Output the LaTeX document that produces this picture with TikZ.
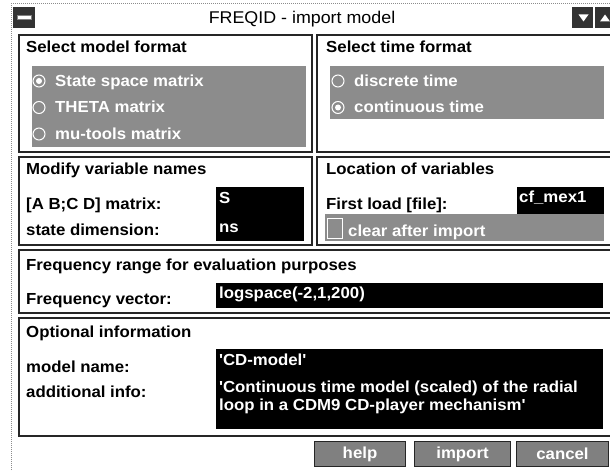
\documentclass[tikz,border=0pt]{standalone}
\usepackage{fontspec}
\setmainfont{Liberation Sans}[FakeStretch=1.05]
\begin{document}
\begin{tikzpicture}[x=1pt,y=-1pt,
  lbl/.style={anchor=base west, inner sep=0pt, font=\bfseries\fontsize{16}{19}\selectfont, text=black},
  wlbl/.style={lbl, text=white},
  panel/.style={draw=black!85, line width=1.4pt},
  shadearea/.style={fill=black!45},
  field/.style={fill=black},
  radio/.style={circle, draw=white, line width=1pt, minimum size=12pt, inner sep=0pt},
  dot/.style={circle, fill=white, minimum size=6pt, inner sep=0pt},
  iconbox/.style={fill=black!80, anchor=north west, inner sep=0pt, minimum height=21pt},
  btn/.style={draw=black!85, line width=1pt, fill=black!50, text=white,
    font=\bfseries\fontsize{16}{19}\selectfont, inner sep=0pt, minimum height=25pt, anchor=north west}
]
\useasboundingbox (0,0) rectangle (610,473);
\clip (0,0) rectangle (610,473);
\fill[white] (0,0) rectangle (610,473);
% window border
\draw[black!45, line width=1pt, dash pattern=on 1pt off 1pt] (11,470) -- (11,4) -- (612,4);

% title bar
\node[anchor=base, inner sep=0pt, font=\fontsize{17}{20}\selectfont] (title) at (302,24) {FREQID - import model};
\node[iconbox, minimum width=22pt] (menu) at (13,7) {};
\fill[white] (17,15.5) rectangle (31,19.5);
\draw[black!50, line width=0.6pt] (17,15.5) rectangle (31,19.5);
\node[iconbox, minimum width=21pt] (down) at (572,7) {};
\fill[white] (578.5,14.5) -- (588.5,14.5) -- (583.5,21.5) -- cycle;
\node[iconbox, minimum width=20pt] (up) at (595,7) {};
\fill[white] (600,21.5) -- (610,21.5) -- (605,14.5) -- cycle;

% panels
\draw[panel] (19,35) rectangle (312,152);
\draw[panel] (317,35) rectangle (614,152);
\draw[panel] (19,157) rectangle (312,245);
\draw[panel] (317,157) rectangle (614,245);
\draw[panel] (19,250) rectangle (614,313);
\draw[panel] (19,318) rectangle (614,436);

% panel 1: model format
\node[lbl] (h1) at (26,53) {Select model format};
\fill[shadearea] (32,66) rectangle (306,147);
\node[radio] (r1) at (39,81) {};
\node[dot] at (r1) {};
\node[radio] (r2) at (39,107.5) {};
\node[radio] (r3) at (39,134) {};
\node[wlbl] (t1) at (55,87) {State space matrix};
\node[wlbl] (t2) at (55,113) {THETA matrix};
\node[wlbl] (t3) at (55,140) {mu-tools matrix};

% panel 1R: time format
\node[lbl] (h2) at (326,53) {Select time format};
\fill[shadearea] (330,66) rectangle (604,119);
\node[radio] (r4) at (338,81) {};
\node[radio] (r5) at (338,107.5) {};
\node[dot] at (r5) {};
\node[wlbl] (t4) at (354,87) {discrete time};
\node[wlbl] (t5) at (354,113) {continuous time};

% panel 2: variable names
\node[lbl] (h3) at (26,175) {Modify variable names};
\node[lbl] (l1) at (26,210) {[A B;C D] matrix:};
\node[lbl] (l2) at (26,235) {state dimension:};
\fill[field] (216,187) rectangle (304,241);
\node[wlbl] (v1) at (219,204) {S};
\node[wlbl] (v2) at (219,232) {ns};

% panel 2R: location
\node[lbl] (h4) at (326,175) {Location of variables};
\node[lbl] (l3) at (326,210) {First load [file]:};
\fill[field] (517,187) rectangle (604,214);
\node[wlbl] (v3) at (519,203) {cf\_mex1};
\fill[shadearea] (325,214) rectangle (604,241);
\draw[white, line width=1pt] (327,218) rectangle (342,238);
\node[wlbl] (t6) at (348,236) {clear after import};

% panel 3: frequency
\node[lbl] (h5) at (26,270) {Frequency range for evaluation purposes};
\node[lbl] (l4) at (26,304) {Frequency vector:};
\fill[field] (216,283) rectangle (603,308);
\node[wlbl] (v4) at (219,298) {logspace(-2,1,200)};

% panel 4: optional info
\node[lbl] (h6) at (26,337) {Optional information};
\node[lbl] (l5) at (26,372) {model name:};
\node[lbl] (l6) at (26,397) {additional info:};
\fill[field] (216,349) rectangle (603,429);
\node[wlbl] (v5) at (219,365) {\textquotesingle CD-model\textquotesingle};
\node[wlbl] (v6) at (219,392) {\textquotesingle Continuous time model (scaled) of the radial};
\node[wlbl] (v7) at (219,410) {loop in a CDM9 CD-player mechanism\textquotesingle};

% buttons
\node[btn, minimum width=91pt] (help) at (314,441) {help};
\node[btn, minimum width=96pt] (import) at (414,441) {import};
\node[btn, minimum width=92pt] (cancel) at (516,441) {cancel};
\end{tikzpicture}
\end{document}
